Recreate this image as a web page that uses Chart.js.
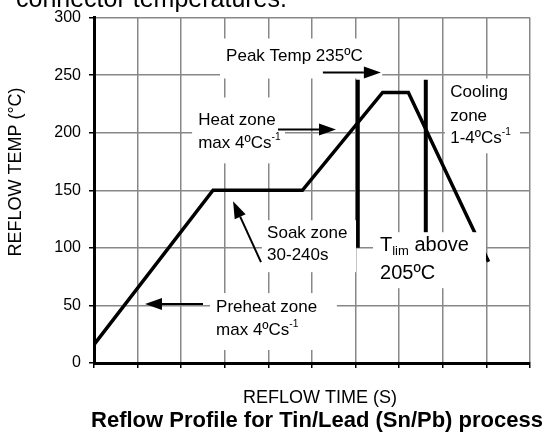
<!DOCTYPE html>
<html>
<head>
<meta charset="utf-8">
<script src="https://cdn.jsdelivr.net/npm/chart.js@4.4.1/dist/chart.umd.min.js"></script>
<style>
  html, body { margin: 0; padding: 0; background: #fff; }
  #wrap { width: 557px; height: 441px; }
</style>
</head>
<body>
<div id="wrap"><canvas id="reflow-chart" width="557" height="441"></canvas></div>
<script>
// reflow profile: time in arbitrary steps (no values printed), temperature in °C
const profileTime = [0, 2.73, 4.78, 6.62, 7.21, 9.05];
const profileTemp = [16, 150, 150, 235, 235, 88];

// the two T_lim bars
const limitTime = [6.05, 7.61];
const limitTemp = [246, 100];

const tempTicks = [0, 50, 100, 150, 200, 250, 300];
const timeTicks = [0, 1, 2, 3, 4, 5, 6, 7, 8, 9, 10];

const FONT = "'Liberation Sans', Arial, sans-serif";

// zone notes, in data units: white box, then text lines
// runs: [text, kind] where kind is '' / 'sup' / 'sub'
const notes = [
  { box: [2.89, 6.61, 281.8, 247.1],
    lines: [{ x: 3.03, y: 266, size: 17, runs: [['Peak Temp 235ºC', '']] }] },
  { box: [2.25, 4.38, 230.6, 173.4],
    lines: [
      { x: 2.39, y: 210.7, size: 17, runs: [['Heat zone', '']] },
      { x: 2.39, y: 190.8, size: 17, runs: [['max 4ºCs', ''], ['-1', 'sup']] }] },
  { box: [8.05, 9.77, 247.1, 182.1],
    lines: [
      { x: 8.17, y: 235, size: 17, runs: [['Cooling', '']] },
      { x: 8.17, y: 214.2, size: 17, runs: [['zone', '']] },
      { x: 8.17, y: 195.1, size: 17, runs: [['1-4ºCs', ''], ['-1', 'sup']] }] },
  { box: [3.85, 6.01, 124, 78.9],
    lines: [
      { x: 3.97, y: 112.7, size: 17, runs: [['Soak zone', '']] },
      { x: 3.97, y: 93.6, size: 17, runs: [['30-240s', '']] }] },
  { box: [6.4, 8.99, 113.6, 65],
    lines: [
      { x: 6.56, y: 102.3, size: 20, runs: [['T', ''], ['lim', 'sub'], [' above', '']] },
      { x: 6.56, y: 78, size: 20, runs: [['205ºC', '']] }] },
  { box: [2.66, 5.57, 60.7, 11.3],
    lines: [
      { x: 2.8, y: 48.6, size: 17, runs: [['Preheat zone', '']] },
      { x: 2.8, y: 28.6, size: 17, runs: [['max 4ºCs', ''], ['-1', 'sup']] }] }
];

// arrows: tail -> tip, data units
const arrows = [
  [5.25, 252.3, 6.58, 252.3],
  [4.22, 202.9, 5.55, 202.9],
  [3.83, 87.6, 3.19, 140.5],
  [2.5, 51.2, 1.17, 51.2]
];

function drawRuns(ctx, x, y, size, runs) {
  let cx = x;
  ctx.textBaseline = 'middle';
  ctx.textAlign = 'left';
  runs.forEach(([text, kind]) => {
    let s = size, dy = 0;
    if (kind === 'sup') { s = size * 0.6; dy = -size * 0.34; }
    if (kind === 'sub') { s = size * 0.65; dy = size * 0.3; }
    ctx.font = s + 'px ' + FONT;
    ctx.fillText(text, cx, y + dy);
    cx += ctx.measureText(text).width;
  });
}

const notesPlugin = {
  id: 'notes',
  afterDatasetsDraw(chart) {
    const ctx = chart.ctx;
    const xs = chart.scales.x, ys = chart.scales.y;
    const px = v => xs.getPixelForValue(v);
    const py = v => ys.getPixelForValue(v);
    ctx.save();
    notes.forEach(n => {
      const [x0, x1, y0, y1] = n.box;
      ctx.fillStyle = '#fff';
      ctx.fillRect(px(x0), py(y0), px(x1) - px(x0), py(y1) - py(y0));
      ctx.fillStyle = '#000';
      n.lines.forEach(l => drawRuns(ctx, px(l.x), py(l.y), l.size, l.runs));
    });
    ctx.strokeStyle = '#000';
    ctx.fillStyle = '#000';
    ctx.lineWidth = 2;
    arrows.forEach(([ax, ay, bx, by]) => {
      const x0 = px(ax), y0 = py(ay), x1 = px(bx), y1 = py(by);
      const ang = Math.atan2(y1 - y0, x1 - x0);
      const len = 17, half = 6;
      const bxp = x1 - len * Math.cos(ang), byp = y1 - len * Math.sin(ang);
      ctx.beginPath();
      ctx.moveTo(x0, y0);
      ctx.lineTo(bxp, byp);
      ctx.stroke();
      ctx.beginPath();
      ctx.moveTo(x1, y1);
      ctx.lineTo(bxp + half * Math.sin(ang), byp - half * Math.cos(ang));
      ctx.lineTo(bxp - half * Math.sin(ang), byp + half * Math.cos(ang));
      ctx.closePath();
      ctx.fill();
    });
    ctx.restore();
  },
  afterDraw(chart) {
    const ctx = chart.ctx;
    ctx.save();
    ctx.fillStyle = '#000';
    // caption above the plot, mostly cut off by the top edge
    ctx.font = '25px ' + FONT;
    ctx.textAlign = 'left';
    ctx.textBaseline = 'alphabetic';
    ctx.fillText('connector temperatures.', 16, 7);
    // axis titles
    ctx.font = '18px ' + FONT;
    ctx.textAlign = 'center';
    ctx.textBaseline = 'middle';
    ctx.fillText('REFLOW TIME (S)', 320, 398);
    ctx.save();
    ctx.translate(16, 172);
    ctx.rotate(-Math.PI / 2);
    ctx.fillText('REFLOW TEMP (°C)', 0, 0);
    ctx.restore();
    ctx.font = 'bold 22px ' + FONT;
    ctx.fillText('Reflow Profile for Tin/Lead (Sn/Pb) process', 317, 421);
    ctx.restore();
  }
};

const lineStyle = { borderColor: '#000', pointRadius: 0, tension: 0, fill: false };

new Chart(document.getElementById('reflow-chart'), {
  type: 'line',
  data: {
    datasets: [
      Object.assign({ label: 'profile', borderWidth: 3.5,
        data: profileTime.map((t, i) => ({ x: t, y: profileTemp[i] })) }, lineStyle),
      Object.assign({ label: 'lim1', borderWidth: 4,
        data: limitTemp.map(v => ({ x: limitTime[0], y: v })) }, lineStyle),
      Object.assign({ label: 'lim2', borderWidth: 4,
        data: limitTemp.map(v => ({ x: limitTime[1], y: v })) }, lineStyle)
    ]
  },
  options: {
    responsive: false,
    animation: false,
    devicePixelRatio: 1,
    layout: { padding: { top: 16, right: 27, left: 0, bottom: 0 } },
    plugins: { legend: { display: false }, tooltip: { enabled: false }, title: { display: false } },
    scales: {
      x: {
        type: 'linear', min: 0, max: 10,
        afterBuildTicks: s => { s.ticks = timeTicks.map(v => ({ value: v })); },
        afterFit: s => { s.height = 78; },
        ticks: { callback: () => '' },
        grid: { color: '#888', lineWidth: 1.5, tickLength: 5, tickColor: '#000' },
        border: { color: '#000', width: 3 }
      },
      y: {
        min: 0, max: 300,
        afterBuildTicks: s => { s.ticks = tempTicks.map(v => ({ value: v })); },
        afterFit: s => { s.width = 94; },
        ticks: { color: '#000', padding: 8, font: { family: FONT, size: 16 } },
        grid: { color: '#888', lineWidth: 1.5, tickLength: 5, tickColor: '#000' },
        border: { color: '#000', width: 3 }
      }
    }
  },
  plugins: [notesPlugin]
});
</script>
</body>
</html>
